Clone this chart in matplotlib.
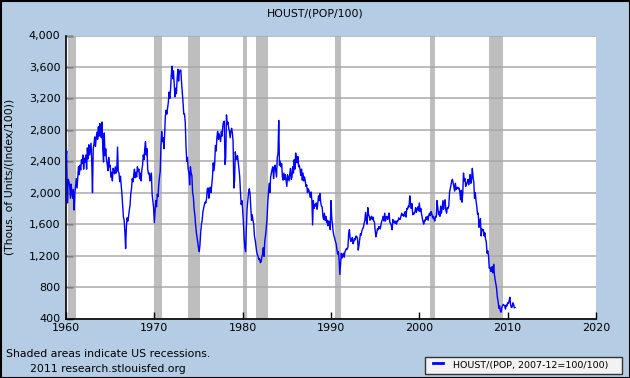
import matplotlib
matplotlib.use('Agg')
import matplotlib.pyplot as plt
from matplotlib.patches import Rectangle
import numpy as np

# monthly values, Thous. of Units/(Index/100)
first_year = 1960
monthly = [
    [2450, 2530, 1870, 2170, 2140, 2090, 1930, 2110, 2000, 1930, 2040, 1780],  # 1960
    [1990, 2080, 2180, 2060, 2200, 2330, 2230, 2350, 2290, 2420, 2370, 2480],
    [2300, 2440, 2390, 2480, 2300, 2570, 2430, 2610, 2480, 2550, 2630, 2390],
    [2000, 2560, 2620, 2710, 2590, 2690, 2770, 2680, 2840, 2720, 2880, 2760],
    [2700, 2900, 2550, 2390, 2760, 2470, 2560, 2420, 2360, 2280, 2450, 2330],
    [2350, 2200, 2260, 2150, 2310, 2280, 2240, 2330, 2250, 2280, 2580, 2270],  # 1965
    [2250, 2140, 2210, 2100, 1980, 1830, 1690, 1650, 1500, 1290, 1560, 1680],
    [1640, 1700, 1780, 1840, 1990, 2050, 2180, 2140, 2230, 2300, 2190, 2260],
    [2200, 2330, 2270, 2300, 2180, 2250, 2150, 2290, 2350, 2480, 2420, 2560],
    [2650, 2480, 2560, 2300, 2240, 2250, 2150, 2180, 2250, 1980, 1900, 1810],
    [1620, 1760, 1900, 1820, 1980, 1950, 2100, 2200, 2270, 2600, 2780, 2650],  # 1970
    [2700, 2560, 2740, 2980, 3050, 3000, 3080, 3150, 3280, 3200, 3300, 3500],
    [3610, 3450, 3550, 3380, 3220, 3330, 3260, 3450, 3570, 3420, 3530, 3560],
    [3560, 3400, 3280, 3150, 3000, 3000, 2900, 2600, 2400, 2450, 2300, 2250],
    [2100, 2330, 2250, 2220, 2000, 1950, 1800, 1720, 1600, 1500, 1430, 1360],
    [1300, 1250, 1340, 1500, 1600, 1650, 1760, 1800, 1850, 1880, 1870, 1930],  # 1975
    [2050, 2060, 1930, 2040, 2070, 2000, 2100, 2200, 2380, 2280, 2370, 2600],
    [2530, 2700, 2780, 2680, 2750, 2700, 2650, 2780, 2720, 2850, 2900, 2910],
    [2360, 2450, 2990, 2870, 2900, 2820, 2780, 2700, 2780, 2820, 2760, 2650],
    [2060, 2150, 2520, 2440, 2420, 2470, 2390, 2300, 2200, 2010, 1850, 1900],
    [1780, 1620, 1420, 1300, 1250, 1550, 1800, 1900, 2000, 2050, 1990, 1820],  # 1980
    [1650, 1720, 1650, 1600, 1450, 1400, 1330, 1250, 1210, 1190, 1150, 1160],
    [1110, 1120, 1180, 1220, 1300, 1190, 1380, 1450, 1550, 1650, 1850, 2000],
    [2120, 2000, 2200, 2250, 2300, 2330, 2180, 2300, 2350, 2280, 2200, 2450],
    [2500, 2920, 2350, 2400, 2330, 2370, 2200, 2160, 2250, 2170, 2230, 2150],
    [2080, 2230, 2190, 2150, 2240, 2310, 2170, 2200, 2330, 2250, 2420, 2300],  # 1985
    [2505, 2430, 2380, 2460, 2330, 2350, 2290, 2220, 2300, 2160, 2250, 2150],
    [2200, 2150, 2080, 2100, 2000, 2050, 2030, 1980, 1940, 2010, 1900, 1590],
    [1900, 1800, 1850, 1830, 1870, 1790, 1850, 1960, 1900, 1990, 1880, 1830],
    [1820, 1700, 1660, 1740, 1650, 1700, 1620, 1650, 1580, 1640, 1600, 1530],
    [1900, 1680, 1600, 1500, 1450, 1420, 1380, 1350, 1280, 1220, 1250, 1150],  # 1990
    [960, 1090, 1230, 1170, 1210, 1230, 1180, 1250, 1270, 1290, 1280, 1310],
    [1480, 1530, 1420, 1380, 1400, 1430, 1350, 1380, 1420, 1400, 1450, 1440],
    [1420, 1270, 1330, 1400, 1480, 1460, 1520, 1540, 1560, 1610, 1650, 1750],
    [1650, 1600, 1810, 1720, 1700, 1650, 1680, 1700, 1660, 1690, 1640, 1630],
    [1520, 1440, 1480, 1540, 1530, 1570, 1560, 1540, 1600, 1640, 1660, 1700],  # 1995
    [1640, 1740, 1640, 1690, 1700, 1660, 1690, 1740, 1620, 1610, 1580, 1530],
    [1660, 1620, 1640, 1610, 1640, 1600, 1640, 1640, 1680, 1660, 1660, 1700],
    [1740, 1710, 1720, 1700, 1750, 1760, 1690, 1800, 1790, 1830, 1820, 1960],
    [1870, 1800, 1860, 1720, 1740, 1730, 1760, 1810, 1750, 1790, 1820, 1770],
    [1870, 1760, 1800, 1730, 1680, 1630, 1600, 1650, 1640, 1690, 1660, 1700],  # 2000
    [1650, 1720, 1740, 1710, 1760, 1730, 1680, 1700, 1660, 1640, 1700, 1690],
    [1900, 1820, 1720, 1760, 1700, 1830, 1740, 1800, 1900, 1790, 1880, 1910],
    [1780, 1740, 1810, 1800, 1830, 2000, 2050, 2100, 2150, 2170, 2120, 2070],
    [2020, 2120, 2040, 2060, 2070, 2050, 2060, 2010, 1910, 2030, 1880, 2000],
    [2250, 2150, 2180, 2080, 2110, 2130, 2170, 2100, 2150, 2230, 2120, 2170],  # 2005
    [2310, 2200, 2130, 1930, 2000, 1900, 1830, 1730, 1740, 1560, 1610, 1670],
    [1450, 1540, 1520, 1530, 1450, 1490, 1410, 1370, 1230, 1260, 1200, 1040],
    [1050, 1000, 1000, 1060, 980, 1090, 960, 890, 840, 780, 670, 620],
    [530, 560, 500, 480, 540, 560, 580, 570, 560, 520, 570, 560],
    [600, 590, 625, 670, 575, 540, 545, 600, 580, 535, 540],  # 2010
]

# NBER recessions (start, end) in decimal years
rec_start = [1960.25, 1969.92, 1973.83, 1980.0, 1981.5, 1990.5, 2001.17, 2007.92]
rec_end = [1961.08, 1970.83, 1975.17, 1980.5, 1982.83, 1991.17, 2001.83, 2009.42]

yticks = [400, 800, 1200, 1600, 2000, 2400, 2800, 3200, 3600, 4000]
xticks = [1960, 1970, 1980, 1990, 2000, 2010, 2020]

dates = []
values = []
for i, row in enumerate(monthly):
    for m, v in enumerate(row):
        dates.append(first_year + i + m / 12.0)
        values.append(v)

bg = '#b4cde4'
fig = plt.figure(figsize=(6.3, 3.78), dpi=100, facecolor=bg)
ax = fig.add_axes([66 / 630, 1 - 318.5 / 378, (596 - 66) / 630, (318.5 - 35.5) / 378])
ax.set_facecolor('white')

for s, e in zip(rec_start, rec_end):
    ax.axvspan(s, e, color='#bebebe', lw=0, zorder=1)

for y in yticks:
    ax.axhline(y, color='#a9a9a9', lw=1.1, zorder=2)

ax.plot(dates, values, color='#0000ff', lw=1.0, zorder=3)

ax.set_xlim(1960, 2020)
ax.set_ylim(400, 4000)
ax.set_xticks(xticks)
ax.set_yticks(yticks)
ax.set_yticklabels(['{:,}'.format(y) for y in yticks])
ax.tick_params(axis='both', direction='in', length=5, width=1, labelsize=8, color='black')
ax.tick_params(axis='y', pad=4)
ax.tick_params(axis='x', pad=3)
for side in ['top', 'right']:
    ax.spines[side].set_visible(False)
for side in ['left', 'bottom']:
    ax.spines[side].set_linewidth(1.2)

ax.set_ylabel('(Thous. of Units/(Index/100))', fontsize=7.8)
ax.yaxis.set_label_coords(-0.098, 0.5)

fig.text(0.5, 1 - 13 / 378, 'HOUST/(POP/100)', ha='center', va='center', fontsize=7.8)
fig.text(6 / 630, 1 - 354 / 378, 'Shaded areas indicate US recessions.', ha='left', va='center', fontsize=7.8)
fig.text(30 / 630, 1 - 369 / 378, '2011 research.stlouisfed.org', ha='left', va='center', fontsize=7.8)

# legend box
fig.patches.append(Rectangle((425 / 630, 1 - 374 / 378), 197 / 630, 17.5 / 378,
                             transform=fig.transFigure, facecolor='#f2f2f2',
                             edgecolor='#333333', lw=1))
fig.lines.append(plt.Line2D([433 / 630, 443 / 630], [1 - 362.5 / 378, 1 - 362.5 / 378],
                            transform=fig.transFigure, color='#0000ff', lw=2))
fig.text(453 / 630, 1 - 365.5 / 378, 'HOUST/(POP, 2007-12=100/100)', ha='left', va='center', fontsize=6.8)

# outer frame
fig.patches.append(Rectangle((0.5 / 630, 0.5 / 378), 629 / 630, 377 / 378, transform=fig.transFigure,
                             fill=False, edgecolor='black', lw=1.5))

fig.savefig('out.png', dpi=100, facecolor=bg)
